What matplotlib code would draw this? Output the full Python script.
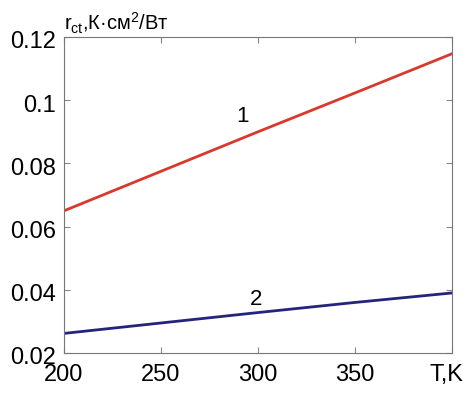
import numpy as np
import matplotlib
matplotlib.use("Agg")
import matplotlib.pyplot as plt
import matplotlib.transforms as mtransforms

plt.rcParams['font.family'] = ['Liberation Sans', 'DejaVu Sans']
plt.rcParams['mathtext.fontset'] = 'custom'
plt.rcParams['mathtext.rm'] = 'Liberation Sans'
plt.rcParams['mathtext.it'] = 'Liberation Sans'

T = [200, 250, 300, 350, 400]
r1 = [0.065, 0.0775, 0.0900, 0.1023, 0.1147]
r2 = [0.0262, 0.0295, 0.0328, 0.0360, 0.0390]
xticks = [200, 250, 300, 350, 400]
xlabels = ["200", "250", "300", "350", "T,K"]
yticks = [0.02, 0.04, 0.06, 0.08, 0.1, 0.12]
ylabels = ["0.02", "0.04", "0.06", "0.08", "0.1", "0.12"]

fig = plt.figure(figsize=(4.67, 3.94), dpi=100)
ax = fig.add_axes([64/467, 1-353/394, 388/467, 316/394])

ax.plot(T, r1, color='#d9382c', lw=2.0)
ax.plot(T, r2, color='#24247c', lw=2.0)

ax.text(292, 0.0947, "1", fontsize=16, ha='center', va='center')
ax.text(299, 0.0370, "2", fontsize=16, ha='center', va='center')

ax.set_xlim(200, 400)
ax.set_ylim(0.02, 0.12)
ax.set_xticks(xticks)
ax.set_xticklabels(xlabels)
ax.set_yticks(yticks)
ax.set_yticklabels(ylabels)
ax.tick_params(direction='in', top=True, right=True, labelsize=17, length=4,
               color='#888888')
ax.tick_params(axis='x', pad=8)
ax.tick_params(axis='y', pad=6)
for s in ax.spines.values():
    s.set_color('#777777')

# nudge the last x label (T,K) a bit to the left, like in the original
lab = ax.get_xticklabels()[-1]
lab.set_transform(lab.get_transform() +
                  mtransforms.ScaledTranslation(-6/100, 0, fig.dpi_scale_trans))
# y labels sit a little below their ticks
for lab in ax.get_yticklabels():
    lab.set_transform(lab.get_transform() +
                      mtransforms.ScaledTranslation(0, -3/100, fig.dpi_scale_trans))

fig.text(64/467, 1-31/394, r"r$_{\rm ct}$,К·см$^{\rm 2}$/Вт", fontsize=14.5,
         ha='left', va='baseline')

fig.savefig("out.png", dpi=100)
